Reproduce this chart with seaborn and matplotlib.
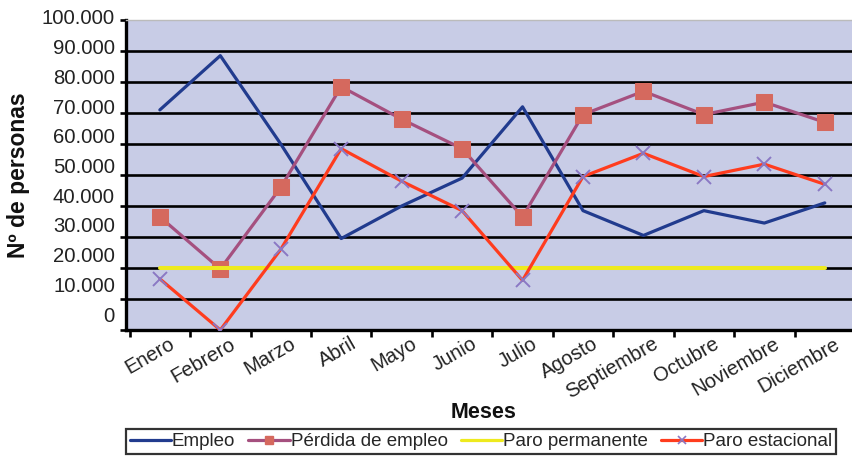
import numpy as np
import pandas as pd
import matplotlib
matplotlib.use("Agg")
import matplotlib.pyplot as plt
from matplotlib.lines import Line2D
from matplotlib.transforms import ScaledTranslation
import seaborn as sns

meses = ["Enero", "Febrero", "Marzo", "Abril", "Mayo", "Junio", "Julio",
         "Agosto", "Septiembre", "Octubre", "Noviembre", "Diciembre"]
empleo = [71000, 88500, 60000, 29500, 40000, 49000, 72000, 38500, 30500, 38500, 34500, 41000]
perdida_empleo = [36500, 19700, 46000, 78500, 68000, 58500, 36500, 69500, 77000, 69500, 73500, 67000]
paro_permanente = [20000] * 12
paro_estacional = [16500, 0, 26000, 58500, 48000, 38500, 16000, 49500, 57000, 49500, 53500, 47000]
y_ticks = [0, 10000, 20000, 30000, 40000, 50000, 60000, 70000, 80000, 90000, 100000]
y_labels = ["0", "10.000", "20.000", "30.000", "40.000", "50.000",
            "60.000", "70.000", "80.000", "90.000", "100.000"]

sns.set_theme(style="white")
plt.rcParams["font.family"] = ["Liberation Sans", "DejaVu Sans"]

C_BG = "#C8CCE6"
C_EMP = "#213B8E"
C_PER = "#A5507F"
C_PER_MK = "#D5695E"
C_PERM = "#EEEA1E"
C_EST = "#FF3C1E"
C_EST_MK = "#8A78C4"

fig = plt.figure(figsize=(8.53, 4.58), dpi=100)
ax = fig.add_axes([126 / 853, 1 - 330 / 458, 729 / 853, 310 / 458])
ax.set_facecolor(C_BG)

x = np.arange(len(meses))
df = pd.DataFrame({"mes": x, "empleo": empleo, "perdida": perdida_empleo,
                   "permanente": paro_permanente, "estacional": paro_estacional})

# horizontal grid lines behind the series
for v in y_ticks[1:-1]:
    ax.axhline(v, color="black", lw=1.9, zorder=1)

lw = 2.3
sns.lineplot(data=df, x="mes", y="empleo", ax=ax, color=C_EMP, lw=lw, zorder=3)
sns.lineplot(data=df, x="mes", y="perdida", ax=ax, color=C_PER, lw=lw, zorder=3,
             marker="s", markersize=11, markerfacecolor=C_PER_MK,
             markeredgecolor=C_PER_MK)
sns.lineplot(data=df, x="mes", y="permanente", ax=ax, color=C_PERM, lw=2.9, zorder=3)
sns.lineplot(data=df, x="mes", y="estacional", ax=ax, color=C_EST, lw=lw, zorder=3,
             marker="x", markersize=10, markeredgewidth=1.4,
             markeredgecolor=C_EST_MK)

ax.set_xlim(-0.56, 11.5)
ax.set_ylim(0, 100000)

# y axis
ax.set_yticks(y_ticks)
ax.set_yticklabels(y_labels, fontsize=14.6, color="#222222")
ax.tick_params(axis="y", which="major", length=4, width=1.9, color="black",
               pad=4, left=True)
fig.canvas.draw()
for tk, v in zip(ax.yaxis.get_major_ticks(), y_ticks):
    dy = (16 - 1.3 * v / 10000) / 100.0
    tk.label1.set_transform(tk.label1.get_transform()
                            + ScaledTranslation(0, dy, fig.dpi_scale_trans))

# x axis: labels at months, tick marks between months
ax.set_xticks(x)
ax.set_xticklabels(meses, fontsize=14.5, rotation=30, ha="right",
                   rotation_mode="anchor", color="#222222")
ax.set_xticks(np.arange(-0.5, 11.6, 1.0), minor=True)
ax.tick_params(axis="x", which="major", length=0, pad=3)
ax.tick_params(axis="x", which="minor", length=5, width=1.9, color="black",
               bottom=True)
for tk in ax.xaxis.get_major_ticks():
    tk.label1.set_transform(tk.label1.get_transform()
                            + ScaledTranslation(0.09, 0, fig.dpi_scale_trans))

for side in ("left", "bottom"):
    ax.spines[side].set_color("black")
    ax.spines[side].set_linewidth(2.4)
ax.spines["top"].set_color("#BBBBBB")
ax.spines["top"].set_linewidth(1.0)
ax.spines["right"].set_visible(False)

ax.set_ylabel("Nº de personas", fontsize=16.5, fontweight="bold", color="#111111")
ax.yaxis.set_label_coords(-0.132, 0.5)
ax.set_xlabel("Meses", fontsize=15.5, fontweight="bold", color="#111111")
ax.xaxis.set_label_coords(0.49, -0.232)

handles = [
    Line2D([], [], color=C_EMP, lw=lw),
    Line2D([], [], color=C_PER, lw=lw, marker="s", markersize=6,
           markerfacecolor=C_PER_MK, markeredgecolor=C_PER_MK),
    Line2D([], [], color=C_PERM, lw=lw),
    Line2D([], [], color=C_EST, lw=lw, marker="x", markersize=6,
           markeredgewidth=1.2, markeredgecolor=C_EST_MK),
]
names = ["Empleo", "Pérdida de empleo", "Paro permanente", "Paro estacional"]
leg = fig.legend(handles, names, loc="center", bbox_to_anchor=(481 / 853, 1 - 441.5 / 458),
                 ncol=4, fontsize=13.5, frameon=True, fancybox=False,
                 handlelength=2.2, handletextpad=0.05, columnspacing=0.7,
                 borderpad=0.2, borderaxespad=0)
leg.get_frame().set_edgecolor("black")
leg.get_frame().set_linewidth(1.6)

fig.savefig("out.png", dpi=100)
